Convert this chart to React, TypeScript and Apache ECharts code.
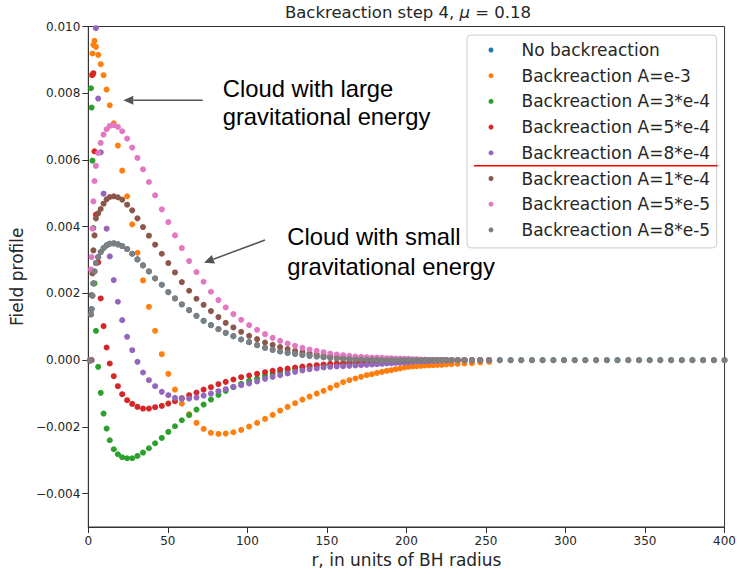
import React, { useEffect, useRef } from "react";
import * as echarts from "echarts";

// r grid (units of BH radius)
const R_GRID = [
  1.0, 1.3, 1.7, 2.1, 2.6, 3.2, 3.9, 4.8, 6.2, 7.8,
  9.6, 11.5, 13.5, 16.0, 18.6, 21.3, 24.4, 27.6, 30.9, 34.4,
  38.1, 42.0, 46.2, 50.3, 54.5, 58.8, 63.4, 68.0, 72.5, 77.1,
  81.8, 86.4, 91.2, 96.1, 101.1, 106.1, 111.1, 115.9, 120.6, 125.3,
  130.0, 134.6, 139.1, 143.6, 147.9, 152.1, 156.2, 160.2, 164.1, 167.9,
  171.5, 175.0, 178.3, 181.5, 184.6, 187.6, 190.5, 193.3, 196.0, 198.7,
  201.3, 203.9, 206.5, 209.1, 211.7, 214.3, 216.9, 219.5, 222.2, 225.1,
  228.4, 232.2, 236.5, 241.2, 246.4, 252.0, 258.7, 265.5, 272.2, 278.9,
  285.6, 292.4, 299.1, 305.8, 312.5, 319.3, 326.0, 332.7, 339.5, 346.2,
  352.9, 359.6, 366.4, 373.1, 379.8, 386.5, 393.3, 400.0,
];

// field values, in units of 1e-3
const A_1E3 = [
  0, 0, 0, 8.54, 9.19, 9.45, 9.57, 9.39, 9.15, 8.87,
  8.54, 8.11, 7.64, 7.10, 6.43, 5.68, 4.91, 4.07, 3.22, 2.39,
  1.60, 0.88, 0.18, -0.41, -0.88, -1.30, -1.62, -1.88, -2.06, -2.18,
  -2.21, -2.20, -2.16, -2.09, -1.99, -1.88, -1.76, -1.64, -1.51, -1.40,
  -1.29, -1.18, -1.09, -1.00, -0.92, -0.83, -0.75, -0.66, -0.60, -0.55,
  -0.50, -0.45, -0.42, -0.38, -0.35, -0.32, -0.30, -0.27, -0.25, -0.22,
  -0.20, -0.19, -0.18, -0.17, -0.16, -0.155, -0.15, -0.145, -0.14, -0.13,
  -0.12, -0.11, -0.10, -0.09, -0.07, -0.05,
];

const A_3E4 = [
  0, 0, 8.15, 7.57, 5.98, 3.96, 2.30, 0.88, -0.20, -0.98,
  -1.60, -2.05, -2.40, -2.67, -2.82, -2.91, -2.94, -2.94, -2.87, -2.77,
  -2.64, -2.49, -2.33, -2.15, -1.98, -1.80, -1.65, -1.48, -1.33, -1.18,
  -1.04, -0.92, -0.81, -0.71, -0.62, -0.55, -0.47, -0.41, -0.35, -0.30,
  -0.26, -0.23, -0.20, -0.17, -0.15, -0.13, -0.11, -0.10, -0.09, -0.08,
  -0.07, -0.06, -0.05, -0.05, -0.04, -0.04, -0.03, -0.03, -0.02, -0.02,
  -0.02, -0.01, -0.01, -0.01, 0, 0, 0, 0, 0, 0,
  0, 0, 0, 0, 0, 0,
];

const A_5E4 = [
  0, 0, 0, 0, 8.55, 8.60, 6.26, 4.36, 2.93, 1.85,
  1.02, 0.38, -0.10, -0.48, -0.78, -1.02, -1.20, -1.31, -1.40, -1.45,
  -1.45, -1.41, -1.37, -1.30, -1.23, -1.14, -1.05, -0.97, -0.88, -0.81,
  -0.72, -0.65, -0.58, -0.51, -0.46, -0.41, -0.36, -0.32, -0.28, -0.25,
  -0.22, -0.19, -0.17, -0.15, -0.13, -0.11, -0.10, -0.09, -0.08, -0.07,
  -0.06, -0.05, -0.05, -0.04, -0.04, -0.03, -0.03, -0.02, -0.02, -0.02,
  -0.01, -0.01, -0.01, 0, 0, 0, 0, 0, 0, 0,
  0, 0, 0, 0, 0, 0,
];

const A_8E4 = [
  0, 0, 10.4, 11.0, 11.3, 11.1, 10.6, 9.95, 7.84, 6.23,
  4.99, 3.94, 3.11, 2.40, 1.75, 1.20, 0.70, 0.30, -0.05, -0.37,
  -0.60, -0.78, -0.95, -1.05, -1.13, -1.16, -1.15, -1.12, -1.06, -1.00,
  -0.93, -0.87, -0.80, -0.75, -0.70, -0.64, -0.56, -0.50, -0.45, -0.40,
  -0.35, -0.31, -0.27, -0.25, -0.22, -0.20, -0.19, -0.18, -0.17, -0.16,
  -0.15, -0.14, -0.13, -0.12, -0.11, -0.10, -0.09, -0.08, -0.08, -0.07,
  -0.06, -0.05, -0.04, -0.04, -0.03, -0.03, -0.02, -0.02, -0.01, -0.01,
  0, 0, 0, 0, 0, 0,
];

const A_1E4 = [
  0, 0, 0, 1.95, 2.60, 3.29, 3.74, 4.25, 4.40, 4.53,
  4.69, 4.82, 4.89, 4.91, 4.88, 4.81, 4.66, 4.49, 4.25, 3.99,
  3.73, 3.46, 3.19, 2.91, 2.63, 2.34, 2.08, 1.84, 1.66, 1.47,
  1.29, 1.12, 0.98, 0.85, 0.73, 0.63, 0.53, 0.46, 0.39, 0.33,
  0.28, 0.24, 0.20, 0.17, 0.14, 0.12, 0.10, 0.08, 0.07, 0.06,
  0.05, 0.04, 0.03, 0.03, 0.02, 0.02, 0.01, 0.01, 0, 0,
  0, 0, 0, 0, 0, 0, 0, 0, 0, 0,
  0, 0, 0, 0, 0, 0,
];

const A_5E5 = [
  0, 0, 2.72, 3.09, 3.94, 4.76, 5.37, 5.82, 6.21, 6.51,
  6.76, 6.92, 7.02, 7.04, 6.99, 6.86, 6.64, 6.37, 6.06, 5.72,
  5.34, 4.94, 4.52, 4.14, 3.74, 3.36, 2.97, 2.64, 2.35, 2.05,
  1.80, 1.58, 1.38, 1.21, 1.05, 0.91, 0.78, 0.67, 0.58, 0.50,
  0.43, 0.37, 0.32, 0.28, 0.24, 0.20, 0.17, 0.15, 0.13, 0.11,
  0.10, 0.09, 0.08, 0.08, 0.07, 0.06, 0.06, 0.05, 0.05, 0.04,
  0.04, 0.03, 0.03, 0.02, 0.02, 0.01, 0.01, 0, 0, 0,
  0, 0, 0, 0, 0, 0,
];

const A_8E5 = [
  0, 0, 1.37, 1.53, 1.93, 2.30, 2.66, 2.91, 3.09, 3.24,
  3.36, 3.44, 3.49, 3.50, 3.47, 3.42, 3.33, 3.19, 3.02, 2.84,
  2.66, 2.45, 2.26, 2.04, 1.85, 1.67, 1.50, 1.33, 1.18, 1.05,
  0.93, 0.82, 0.72, 0.62, 0.54, 0.45, 0.37, 0.31, 0.26, 0.22,
  0.19, 0.16, 0.13, 0.11, 0.09, 0.07, 0.05, 0.04, 0.03, 0.02,
  0.02, 0.01, 0.01, 0.01, 0, 0, 0, 0, 0, 0,
  0, 0, 0, 0, 0, 0, 0, 0, 0, 0,
  0, 0, 0, 0, 0, 0, 0, 0, 0, 0,
  0, 0, 0, 0, 0, 0, 0, 0, 0, 0,
  0, 0, 0, 0, 0, 0, 0, 0,
];

// hidden beneath the last series in the reference
const NO_BACKREACTION = A_8E5;

const SERIES_NAMES = [
  "No backreaction",
  "Backreaction A=e-3",
  "Backreaction A=3*e-4",
  "Backreaction A=5*e-4",
  "Backreaction A=8*e-4",
  "Backreaction A=1*e-4",
  "Backreaction A=5*e-5",
  "Backreaction A=8*e-5",
];
const SERIES_VALUES = [NO_BACKREACTION, A_1E3, A_3E4, A_5E4, A_8E4, A_1E4, A_5E5, A_8E5];
const COLORS = ["#1f77b4", "#ff7f0e", "#2ca02c", "#d62728", "#9467bd", "#8c564b", "#e377c2", "#7f7f7f"];

const Y_TICKS = [-0.004, -0.002, 0, 0.002, 0.004, 0.006, 0.008, 0.01];

const FONT = "DejaVu Sans";
const TXT = "#262626";
const AX = "#333333";

function arrowHead(tip: number[], tail: number[], len: number, half: number) {
  const dx = tip[0] - tail[0];
  const dy = tip[1] - tail[1];
  const d = Math.sqrt(dx * dx + dy * dy);
  const ux = dx / d, uy = dy / d;
  const bx = tip[0] - ux * len, by = tip[1] - uy * len;
  return {
    base: [bx, by],
    points: [
      [tip[0], tip[1]],
      [bx - uy * half, by + ux * half],
      [bx + uy * half, by - ux * half],
    ],
  };
}

export default function App() {
  const ref = useRef<HTMLDivElement>(null);
  useEffect(() => {
    if (!ref.current) return;
    const chart = echarts.init(ref.current, null, { renderer: "svg" });

    const a1Tail = [202.7, 100.3];
    const a1Tip = [123.3, 100.3];
    const a2Tail = [265, 240];
    const a2Tip = [204, 262.7];
    const h1 = arrowHead(a1Tip, a1Tail, 10, 4.5);
    const h2 = arrowHead(a2Tip, a2Tail, 10, 4.5);
    const annoFont = { fontFamily: "Liberation Sans", fontSize: 23.8, fill: "#000", verticalAlign: "middle" };

    const option: any = {
      animation: false,
      backgroundColor: "#ffffff",
      title: {
        text: "{n|Backreaction step 4, }{m|μ}{n| = 0.18}",
        left: 408,
        top: 4,
        textAlign: "center",
        padding: 0,
        textStyle: {
          fontWeight: "normal",
          rich: {
            n: { fontFamily: FONT, fontSize: 16.5, fontWeight: "normal", color: TXT },
            m: { fontFamily: FONT, fontSize: 16.5, fontWeight: "normal", fontStyle: "italic", color: TXT },
          },
        },
      },
      grid: {
        left: 87,
        right: 8.5,
        top: 26.5,
        bottom: 47,
        show: true,
        borderColor: AX,
        borderWidth: 1,
        backgroundColor: "transparent",
      },
      xAxis: {
        type: "value",
        min: 0,
        max: 400,
        interval: 50,
        axisLine: { show: true, onZero: false, lineStyle: { color: AX, width: 1 } },
        axisTick: { show: true, inside: false, length: 6, lineStyle: { color: AX } },
        axisLabel: { margin: 8, fontFamily: FONT, fontSize: 12, color: TXT },
        splitLine: { show: false },
        name: "r, in units of BH radius",
        nameLocation: "middle",
        nameGap: 23,
        nameTextStyle: { fontFamily: FONT, fontSize: 17, color: TXT },
      },
      yAxis: {
        type: "value",
        min: -0.005,
        max: 0.01,
        axisLine: { show: true, onZero: false, lineStyle: { color: AX, width: 1 } },
        axisTick: { show: true, inside: false, length: 6, customValues: Y_TICKS, lineStyle: { color: AX } },
        axisLabel: {
          customValues: Y_TICKS,
          margin: 8,
          fontFamily: FONT,
          fontSize: 12,
          color: TXT,
          formatter: (v: number) => (v < 0 ? "\u2212" + (-v).toFixed(3) : v.toFixed(3)),
        },
        splitLine: { show: false },
        name: "Field profile",
        nameLocation: "middle",
        nameGap: 50,
        nameTextStyle: { fontFamily: FONT, fontSize: 17, color: TXT },
      },
      legend: {
        orient: "vertical",
        left: 467,
        top: 35,
        padding: [5, 6.5, 8, 21.5],
        itemWidth: 5,
        itemHeight: 5,
        itemGap: 5.7,
        icon: "circle",
        selectedMode: false,
        backgroundColor: "rgba(255,255,255,0.8)",
        borderColor: "#cccccc",
        borderWidth: 1,
        borderRadius: 4,
        textStyle: { fontFamily: FONT, fontSize: 17, color: TXT, lineHeight: 20, padding: [0, 0, 0, 23] },
        data: SERIES_NAMES,
      },
      series: SERIES_VALUES.map((vals, k) => ({
        name: SERIES_NAMES[k],
        type: "scatter",
        symbol: "circle",
        symbolSize: 6,
        clip: true,
        itemStyle: { color: COLORS[k], opacity: 1 },
        emphasis: { disabled: true },
        data: vals.map((v, i) => [R_GRID[i], v / 1000]),
      })),
      graphic: [
        { type: "text", x: 222.7, y: 88.1, z: 100, style: { text: "Cloud with large", ...annoFont } },
        { type: "text", x: 222.7, y: 116.6, z: 100, style: { text: "gravitational energy", ...annoFont } },
        { type: "text", x: 287.3, y: 236.8, z: 100, style: { text: "Cloud with small", ...annoFont } },
        { type: "text", x: 287.3, y: 266.7, z: 100, style: { text: "gravitational energy", ...annoFont } },
        {
          type: "line", z: 100,
          shape: { x1: a1Tail[0], y1: a1Tail[1], x2: h1.base[0], y2: h1.base[1] },
          style: { stroke: "#555555", lineWidth: 1.5 },
        },
        { type: "polygon", z: 100, shape: { points: h1.points }, style: { fill: "#555555" } },
        {
          type: "line", z: 100,
          shape: { x1: a2Tail[0], y1: a2Tail[1], x2: h2.base[0], y2: h2.base[1] },
          style: { stroke: "#555555", lineWidth: 1.5 },
        },
        { type: "polygon", z: 100, shape: { points: h2.points }, style: { fill: "#555555" } },
        {
          type: "line", z: 100,
          shape: { x1: 474, y1: 165.7, x2: 717.7, y2: 165.7 },
          style: { stroke: "#ff0000", lineWidth: 1.5 },
        },
      ],
    };
    chart.setOption(option);
    return () => chart.dispose();
  }, []);
  return <div ref={ref} style={{ position: "fixed", left: 0, top: 0, width: 739, height: 574 }} />;
}
